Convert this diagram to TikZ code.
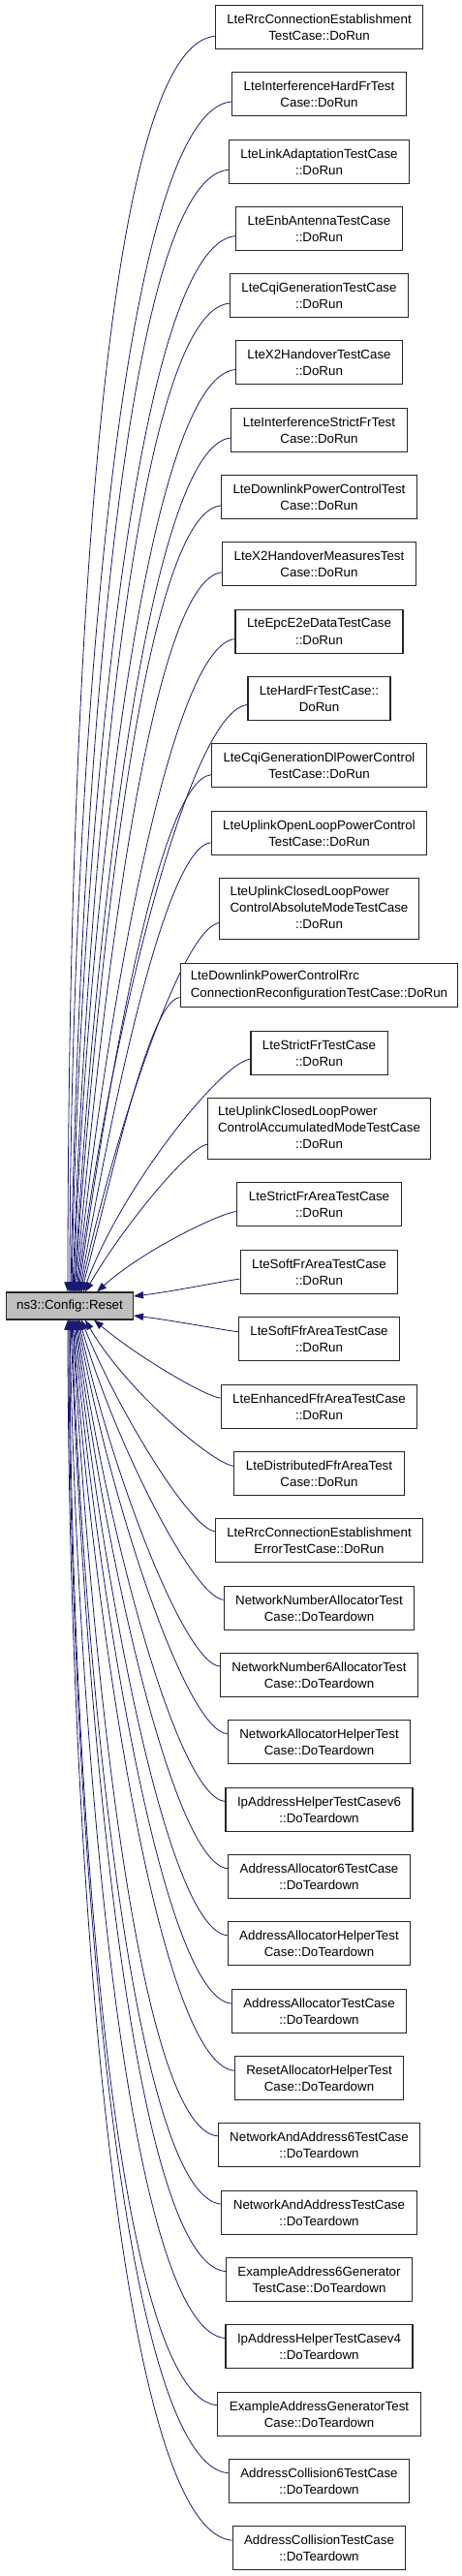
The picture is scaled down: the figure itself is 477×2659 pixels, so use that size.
\documentclass[tikz,border=0pt]{standalone}
\usepackage{fontspec}
\setmainfont{Liberation Sans}
\usepackage{tikz}
\usetikzlibrary{arrows.meta,calc,positioning}
\pgfdeclarelayer{edgelayer}
\pgfdeclarelayer{nodelayer}
\pgfsetlayers{edgelayer,nodelayer,main}
\tikzset{font=\fontsize{10pt}{13pt}\selectfont}
\definecolor{edgeblue}{rgb}{0.098,0.098,0.439}
\definecolor{resetgray}{gray}{0.75}
\tikzstyle{caller}=[rectangle,draw=black!85,fill=white,line width=0.8pt,align=center,inner xsep=9pt,inner ysep=7pt]
\tikzstyle{longcaller}=[rectangle,draw=black!85,fill=white,line width=0.8pt,inner xsep=8pt,inner ysep=4pt]
\tikzstyle{target}=[rectangle,draw=black!85,fill=resetgray,line width=0.8pt,inner xsep=8pt,inner ysep=5.5pt,text height=7.5pt,text depth=2.5pt]
\tikzstyle{callarrow}=[->, >={Triangle[length=7.5pt,width=5.5pt]}, draw=edgeblue, line width=0.6pt, out looseness=0.25, in looseness=1.0]

\begin{document}
\begin{tikzpicture}[x=0.75pt,y=0.75pt]
	\useasboundingbox (0,0) rectangle (477,-2659);
	\begin{pgfonlayer}{nodelayer}
		\node [style=target] (R) at (72,-1348) {ns3::Config::Reset};
		\node [style=caller] (C1) at (329.5,-28) {LteRrcConnectionEstablishment\\TestCase::DoRun};
		\node [style=caller] (C2) at (329.5,-97) {LteInterferenceHardFrTest\\Case::DoRun};
		\node [style=caller] (C3) at (329.5,-167) {LteLinkAdaptationTestCase\\::DoRun};
		\node [style=caller] (C4) at (329.5,-236) {LteEnbAntennaTestCase\\::DoRun};
		\node [style=caller] (C5) at (329.5,-305) {LteCqiGenerationTestCase\\::DoRun};
		\node [style=caller] (C6) at (329.5,-374) {LteX2HandoverTestCase\\::DoRun};
		\node [style=caller] (C7) at (329.5,-444) {LteInterferenceStrictFrTest\\Case::DoRun};
		\node [style=caller] (C8) at (329.5,-513) {LteDownlinkPowerControlTest\\Case::DoRun};
		\node [style=caller] (C9) at (329.5,-582) {LteX2HandoverMeasuresTest\\Case::DoRun};
		\node [style=caller] (C10) at (329.5,-652) {LteEpcE2eDataTestCase\\::DoRun};
		\node [style=caller] (C11) at (329.5,-721) {LteHardFrTestCase::\\DoRun};
		\node [style=caller] (C12) at (329.5,-790) {LteCqiGenerationDlPowerControl\\TestCase::DoRun};
		\node [style=caller] (C13) at (329.5,-860) {LteUplinkOpenLoopPowerControl\\TestCase::DoRun};
		\node [style=longcaller] (C14) at (329.5,-938) {\begin{tabular}{@{}l@{}}LteUplinkClosedLoopPower\\ControlAbsoluteModeTestCase\\\multicolumn{1}{@{}c@{}}{::DoRun}\end{tabular}};
		\node [style=longcaller] (C15) at (329.5,-1017) {\begin{tabular}{@{}l@{}}LteDownlinkPowerControlRrc\\ConnectionReconfigurationTestCase::DoRun\end{tabular}};
		\node [style=caller] (C16) at (329.5,-1087) {LteStrictFrTestCase\\::DoRun};
		\node [style=longcaller] (C17) at (329.5,-1165) {\begin{tabular}{@{}l@{}}LteUplinkClosedLoopPower\\ControlAccumulatedModeTestCase\\\multicolumn{1}{@{}c@{}}{::DoRun}\end{tabular}};
		\node [style=caller] (C18) at (329.5,-1243) {LteStrictFrAreaTestCase\\::DoRun};
		\node [style=caller] (C19) at (329.5,-1313) {LteSoftFrAreaTestCase\\::DoRun};
		\node [style=caller] (C20) at (329.5,-1382) {LteSoftFfrAreaTestCase\\::DoRun};
		\node [style=caller] (C21) at (329.5,-1452) {LteEnhancedFfrAreaTestCase\\::DoRun};
		\node [style=caller] (C22) at (329.5,-1521) {LteDistributedFfrAreaTest\\Case::DoRun};
		\node [style=caller] (C23) at (329.5,-1590) {LteRrcConnectionEstablishment\\ErrorTestCase::DoRun};
		\node [style=caller] (C24) at (329.5,-1660) {NetworkNumberAllocatorTest\\Case::DoTeardown};
		\node [style=caller] (C25) at (329.5,-1729) {NetworkNumber6AllocatorTest\\Case::DoTeardown};
		\node [style=caller] (C26) at (329.5,-1798) {NetworkAllocatorHelperTest\\Case::DoTeardown};
		\node [style=caller] (C27) at (329.5,-1868) {IpAddressHelperTestCasev6\\::DoTeardown};
		\node [style=caller] (C28) at (329.5,-1937) {AddressAllocator6TestCase\\::DoTeardown};
		\node [style=caller] (C29) at (329.5,-2006) {AddressAllocatorHelperTest\\Case::DoTeardown};
		\node [style=caller] (C30) at (329.5,-2076) {AddressAllocatorTestCase\\::DoTeardown};
		\node [style=caller] (C31) at (329.5,-2145) {ResetAllocatorHelperTest\\Case::DoTeardown};
		\node [style=caller] (C32) at (329.5,-2214) {NetworkAndAddress6TestCase\\::DoTeardown};
		\node [style=caller] (C33) at (329.5,-2284) {NetworkAndAddressTestCase\\::DoTeardown};
		\node [style=caller] (C34) at (329.5,-2353) {ExampleAddress6Generator\\TestCase::DoTeardown};
		\node [style=caller] (C35) at (329.5,-2422) {IpAddressHelperTestCasev4\\::DoTeardown};
		\node [style=caller] (C36) at (329.5,-2492) {ExampleAddressGeneratorTest\\Case::DoTeardown};
		\node [style=caller] (C37) at (329.5,-2561) {AddressCollision6TestCase\\::DoTeardown};
		\node [style=caller] (C38) at (329.5,-2630) {AddressCollisionTestCase\\::DoTeardown};
	\end{pgfonlayer}
	\begin{pgfonlayer}{edgelayer}
		% callers above the target
		\draw [style=callarrow, out=185, in=90] (C1) to ($(R.north)+(-2,0)$);
		\draw [style=callarrow, out=185, in=90] (C2) to ($(R.north)+(0,0)$);
		\draw [style=callarrow, out=185, in=89] (C3) to ($(R.north)+(1,0)$);
		\draw [style=callarrow, out=185, in=89] (C4) to ($(R.north)+(2,0)$);
		\draw [style=callarrow, out=185, in=88] (C5) to ($(R.north)+(3,0)$);
		\draw [style=callarrow, out=185, in=88] (C6) to ($(R.north)+(4,0)$);
		\draw [style=callarrow, out=185, in=87] (C7) to ($(R.north)+(5,0)$);
		\draw [style=callarrow, out=185, in=86] (C8) to ($(R.north)+(5,0)$);
		\draw [style=callarrow, out=185, in=85] (C9) to ($(R.north)+(6,0)$);
		\draw [style=callarrow, out=185, in=84] (C10) to ($(R.north)+(7,0)$);
		\draw [style=callarrow, out=185, in=83] (C11) to ($(R.north)+(8,0)$);
		\draw [style=callarrow, out=185, in=82] (C12) to ($(R.north)+(9,0)$);
		\draw [style=callarrow, out=185, in=80] (C13) to ($(R.north)+(10,0)$);
		\draw [style=callarrow, out=188, in=78] (C14) to ($(R.north)+(11,0)$);
		\draw [style=callarrow, out=185, in=75] (C15) to ($(R.north)+(12,0)$);
		\draw [style=callarrow, out=185, in=70] (C16) to ($(R.north)+(14,0)$);
		\draw [style=callarrow, out=188, in=60] (C17) to ($(R.north)+(16,0)$);
		\draw [style=callarrow, out=185, in=42] (C18) to ($(R.north)+(28,0)$);
		% callers level with the target
		\draw [style=callarrow, out=185, in=7] (C19) to ($(R.east)+(0,10)$);
		\draw [style=callarrow, out=175, in=-7] (C20) to ($(R.east)+(0,-10)$);
		% callers below the target
		\draw [style=callarrow, out=175, in=-40] (C21) to ($(R.south)+(25,0)$);
		\draw [style=callarrow, out=175, in=-60] (C22) to ($(R.south)+(16,0)$);
		\draw [style=callarrow, out=175, in=-68] (C23) to ($(R.south)+(12,0)$);
		\draw [style=callarrow, out=175, in=-74] (C24) to ($(R.south)+(10,0)$);
		\draw [style=callarrow, out=175, in=-78] (C25) to ($(R.south)+(9,0)$);
		\draw [style=callarrow, out=175, in=-80] (C26) to ($(R.south)+(8,0)$);
		\draw [style=callarrow, out=175, in=-82] (C27) to ($(R.south)+(7,0)$);
		\draw [style=callarrow, out=175, in=-83] (C28) to ($(R.south)+(6,0)$);
		\draw [style=callarrow, out=175, in=-84] (C29) to ($(R.south)+(5,0)$);
		\draw [style=callarrow, out=175, in=-85] (C30) to ($(R.south)+(4,0)$);
		\draw [style=callarrow, out=175, in=-86] (C31) to ($(R.south)+(3,0)$);
		\draw [style=callarrow, out=175, in=-87] (C32) to ($(R.south)+(3,0)$);
		\draw [style=callarrow, out=175, in=-88] (C33) to ($(R.south)+(2,0)$);
		\draw [style=callarrow, out=175, in=-88] (C34) to ($(R.south)+(1,0)$);
		\draw [style=callarrow, out=175, in=-89] (C35) to ($(R.south)+(0,0)$);
		\draw [style=callarrow, out=175, in=-90] (C36) to ($(R.south)+(0,0)$);
		\draw [style=callarrow, out=175, in=-90] (C37) to ($(R.south)+(-1,0)$);
		\draw [style=callarrow, out=175, in=-90] (C38) to ($(R.south)+(-2,0)$);
	\end{pgfonlayer}
\end{tikzpicture}
\end{document}
